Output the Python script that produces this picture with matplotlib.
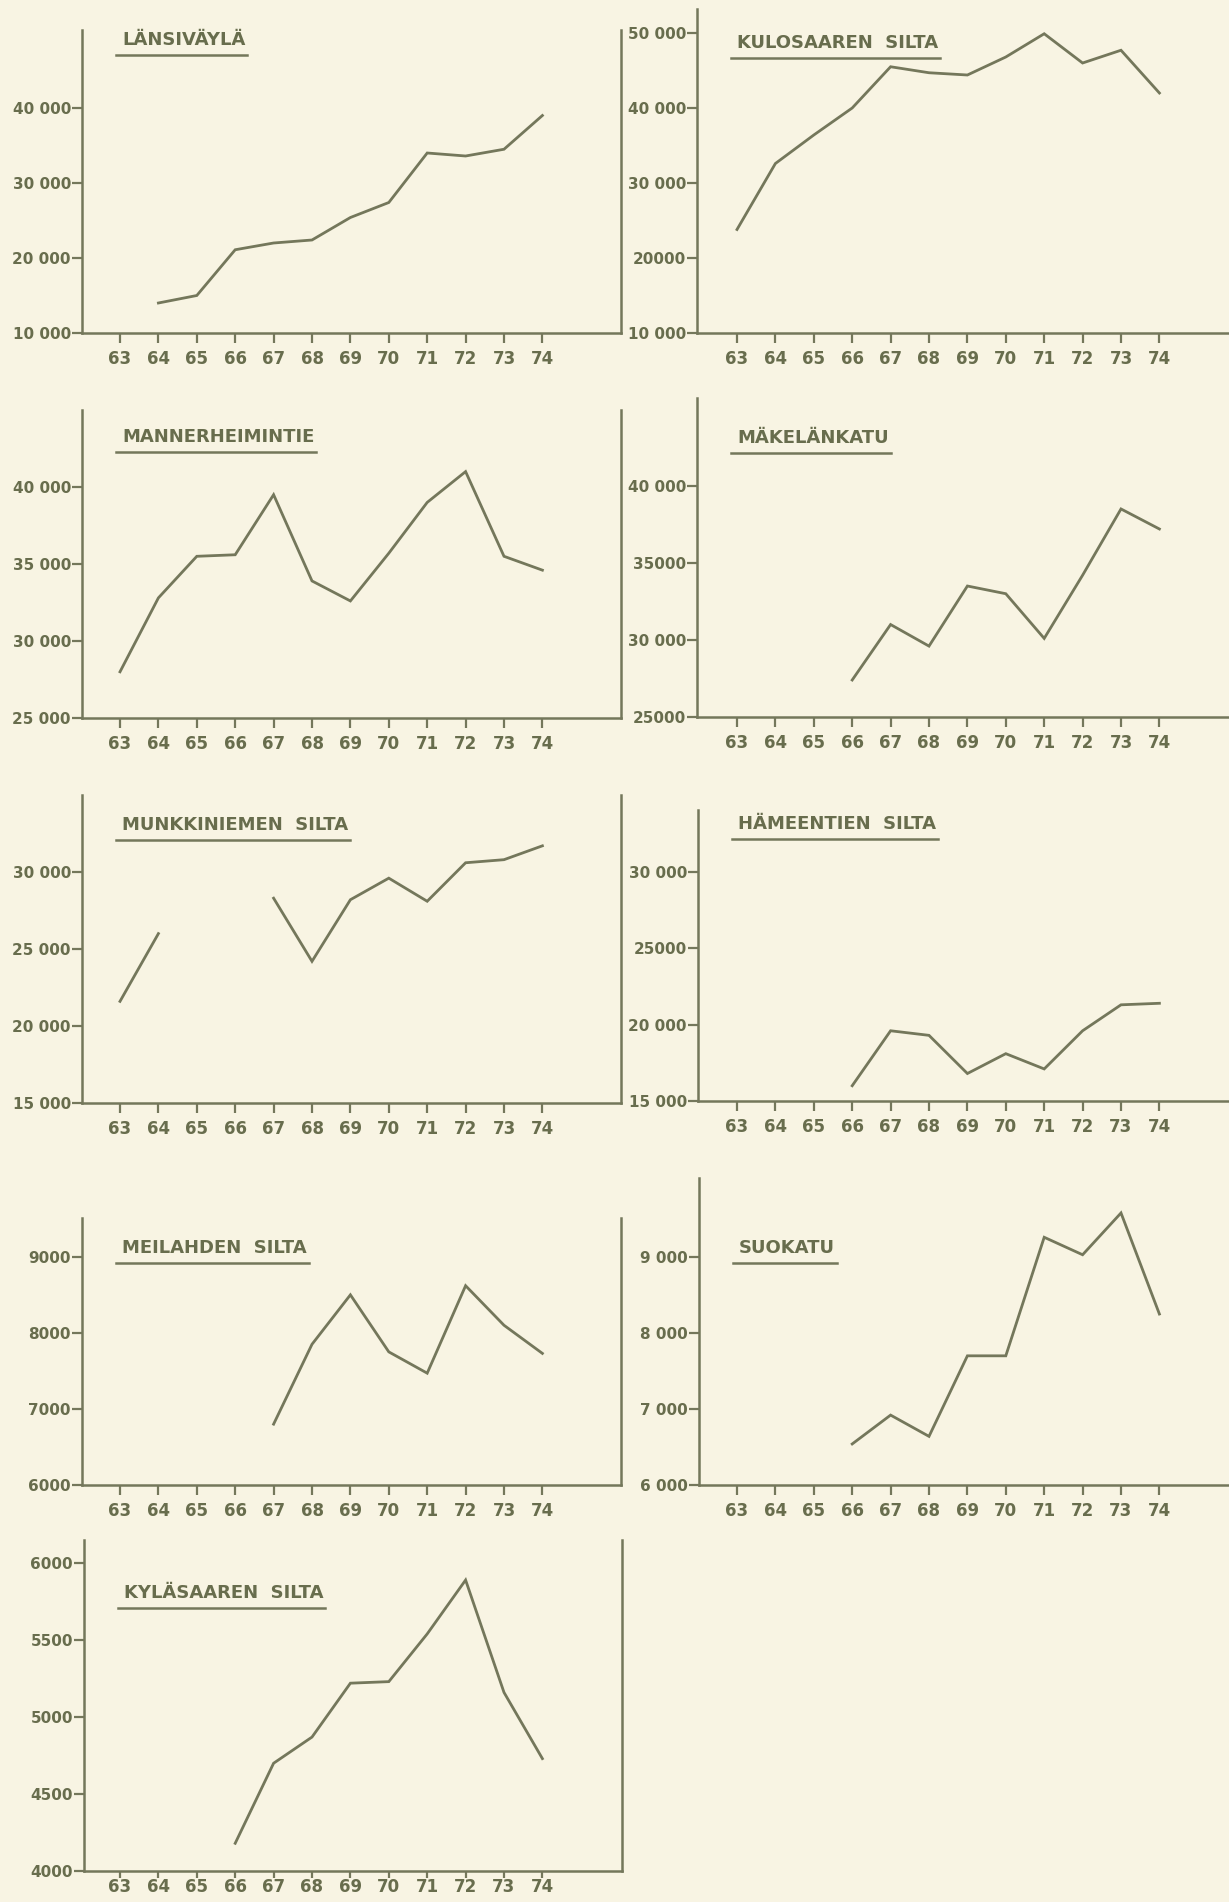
import numpy as np
import matplotlib
matplotlib.use("Agg")
import matplotlib.pyplot as plt
from matplotlib.lines import Line2D

# Traffic counts per year (vehicles / day)
years = [63, 64, 65, 66, 67, 68, 69, 70, 71, 72, 73, 74]
year_labels = [str(y) for y in years]
nan = np.nan

lansivayla = [nan, 14000, 15000, 21100, 22000, 22400, 25400, 27400, 34000, 33600, 34500, 39000]
kulosaari = [23800, 32600, 36400, 40000, 45500, 44700, 44400, 46800, 49900, 46000, 47700, 42000]
mannerheimintie = [28000, 32800, 35500, 35600, 39500, 33900, 32600, 35700, 39000, 41000, 35500, 34600]
makelankatu = [nan, nan, nan, 27400, 31000, 29600, 33500, 33000, 30100, 34200, 38500, 37200]
munkkiniemi = [21600, 26000, nan, nan, 28300, 24200, 28200, 29600, 28100, 30600, 30800, 31700]
hameentie = [nan, nan, nan, 16000, 19600, 19300, 16800, 18100, 17100, 19600, 21300, 21400]
meilahti = [nan, nan, nan, nan, 6800, 7850, 8500, 7750, 7470, 8620, 8100, 7730]
suokatu = [nan, nan, nan, 6540, 6920, 6640, 7700, 7700, 9260, 9030, 9580, 8250]
kylasaari = [nan, nan, nan, 4180, 4700, 4870, 5220, 5230, 5540, 5890, 5160, 4730]

titles = ["LÄNSIVÄYLÄ", "KULOSAAREN  SILTA", "MANNERHEIMINTIE", "MÄKELÄNKATU",
          "MUNKKINIEMEN  SILTA", "HÄMEENTIEN  SILTA", "MEILAHDEN  SILTA", "SUOKATU",
          "KYLÄSAAREN  SILTA"]
series = [lansivayla, kulosaari, mannerheimintie, makelankatu, munkkiniemi,
          hameentie, meilahti, suokatu, kylasaari]
yticks = [
    [10000, 20000, 30000, 40000],
    [10000, 20000, 30000, 40000, 50000],
    [25000, 30000, 35000, 40000],
    [25000, 30000, 35000, 40000],
    [15000, 20000, 25000, 30000],
    [15000, 20000, 25000, 30000],
    [6000, 7000, 8000, 9000],
    [6000, 7000, 8000, 9000],
    [4000, 4500, 5000, 5500, 6000],
]
ytick_labels = [
    ["10 000", "20 000", "30 000", "40 000"],
    ["10 000", "20000", "30 000", "40 000", "50 000"],
    ["25 000", "30 000", "35 000", "40 000"],
    ["25000", "30 000", "35000", "40 000"],
    ["15 000", "20 000", "25 000", "30 000"],
    ["15 000", "20 000", "25000", "30 000"],
    ["6000", "7000", "8000", "9000"],
    ["6 000", "7 000", "8 000", "9 000"],
    ["4000", "4500", "5000", "5500", "6000"],
]
ylims = [(10000, 50400), (10000, 53200), (25000, 45000), (25000, 45700),
         (15000, 35000), (15000, 34060), (6000, 9510), (6000, 10040), (4000, 6150)]

# layout in pixels: (left, top, right, bottom), title centre y
W, H = 1229, 1902
rects = [(82, 30, 621, 333), (697, 9, 1229, 333),
         (82, 410, 621, 718), (697, 398, 1229, 717),
         (82, 795, 621, 1103), (698, 810, 1229, 1101),
         (82, 1218, 621, 1485), (699, 1178, 1229, 1485),
         (84, 1540, 622, 1871)]
title_y = [40, 43, 437, 438, 825, 824, 1248, 1248, 1593]

paper = '#f8f4e3'
ink = '#74775b'
text_ink = '#686d4d'

fig = plt.figure(figsize=(W / 100, H / 100), dpi=100, facecolor=paper)

title_artists = []
for i, vals in enumerate(series):
    x0, y0, x1, y1 = rects[i]
    left_col = x0 < 400
    last = i == len(series) - 1
    ax = fig.add_axes([x0 / W, 1 - y1 / H, (x1 - x0) / W, (y1 - y0) / H])
    ax.set_facecolor(paper)

    # year spacing is ~38.4 px, first tick ~38 px right of the y axis
    first = 120 if left_col else 737
    step = 38.4
    ax.set_xlim(63 - (first - x0) / step, 74 + (x1 - (first + 11 * step)) / step)
    ax.set_ylim(*ylims[i])

    ax.plot(years, vals, color=ink, lw=2.0, solid_joinstyle='miter')

    ax.set_xticks(years)
    ax.set_xticklabels(year_labels, fontweight='bold')
    ax.set_yticks(yticks[i])
    ax.set_yticklabels(ytick_labels[i], fontweight='bold')
    ax.tick_params(axis='both', direction='out', length=7, width=1.6, color=ink,
                   labelcolor=text_ink)
    ax.tick_params(axis='x', labelsize=12, pad=0 if last else 5)
    if last:
        ax.tick_params(axis='x', length=5)
    ax.tick_params(axis='y', labelsize=11, pad=1)

    ax.spines['top'].set_visible(False)
    ax.spines['right'].set_visible(left_col)
    for s in ax.spines.values():
        s.set_color(ink)
        s.set_linewidth(1.8)

    t = fig.text((x0 + 40) / W, 1 - title_y[i] / H, titles[i], fontsize=13,
                 fontweight='bold', color=text_ink, va='center', ha='left')
    title_artists.append(t)

# underline the panel titles
fig.canvas.draw()
renderer = fig.canvas.get_renderer()
for t in title_artists:
    bb = t.get_window_extent(renderer)
    yline = bb.y0 - 6
    fig.add_artist(Line2D([(bb.x0 - 6) / W, (bb.x1 + 2) / W], [yline / H, yline / H],
                          transform=fig.transFigure, color=ink, lw=1.8))

fig.savefig('out.png', dpi=100, facecolor=paper)
